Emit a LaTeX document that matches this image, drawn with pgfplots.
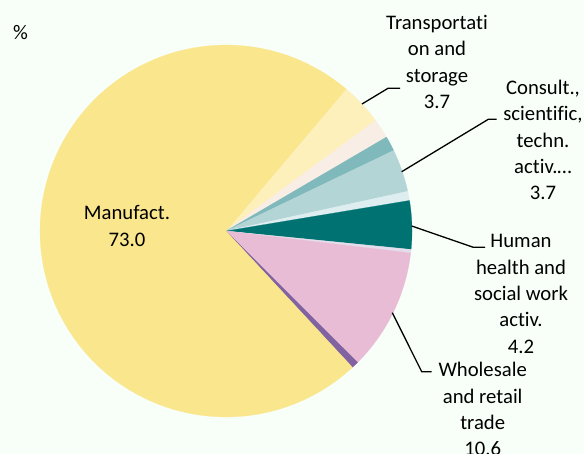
\documentclass[border=0pt]{standalone}
\usepackage{fontspec}
\setmainfont{Carlito}[Ligatures=NoCommon]
\usepackage{pgfplots}
\pgfplotsset{compat=1.18}

\definecolor{bgc}{RGB}{248,255,248}
\definecolor{cManu}{RGB}{250,230,140}
\definecolor{cTrans}{RGB}{253,240,186}
\definecolor{cCream}{RGB}{249,238,230}
\definecolor{cTealM}{RGB}{128,185,187}
\definecolor{cCons}{RGB}{179,213,214}
\definecolor{cVL}{RGB}{221,237,240}
\definecolor{cHum}{RGB}{0,114,114}
\definecolor{cSep}{RGB}{228,222,236}
\definecolor{cWhole}{RGB}{232,188,212}
\definecolor{cPurp}{RGB}{128,99,160}

% pie drawn in pixel-like units: centre (226,231), radius 186
\newcommand\cum{49.8}
\newcommand\slice[2]{%
  \pgfmathsetmacro\sa{\cum}%
  \pgfmathsetmacro\sb{\cum-#1/99.9*360}%
  \addplot[fill=#2, draw=#2, line width=0.2pt, domain=\sb:\sa, samples=90]
    ({226+186*cos(x)},{231-186*sin(x)}) -- (axis cs:226,231) -- cycle;
  \global\let\cum\sb}

\begin{document}
\begin{tikzpicture}[lbl/.style={align=center, text=black,
    font={\fontsize{20.7bp}{26.3bp}\selectfont}}]
\begin{axis}[name=ax,
  scale only axis, width=584bp, height=454bp,
  xmin=0, xmax=584, ymin=0, ymax=454, y dir=reverse,
  hide axis, clip=false]
\fill[bgc] (rel axis cs:0,0) rectangle (rel axis cs:1,1);

\slice{3.7}{cTrans}
\slice{1.7}{cCream}
\slice{1.3}{cTealM}
\slice{3.7}{cCons}
\slice{0.8}{cVL}
\slice{4.2}{cHum}
\slice{0.3}{cSep}
\slice{10.6}{cWhole}
\slice{0.6}{cPurp}
\slice{73.0}{cManu}

\draw[line width=1.3bp] (axis cs:362,104) -- (axis cs:388,88.3) -- (axis cs:400,88.3);
\draw[line width=1.3bp] (axis cs:401.7,171.7) -- (axis cs:488.3,119.3) -- (axis cs:496.7,119.3);
\draw[line width=1.3bp] (axis cs:411.7,226) -- (axis cs:473.3,247.3) -- (axis cs:485,247.3);
\draw[line width=1.3bp] (axis cs:392.3,312.7) -- (axis cs:421.7,371.7) -- (axis cs:431.7,371.7);

\node[lbl] at (axis cs:20.5,33) {\%};
\node[lbl] at (axis cs:127,226) {Manufact.\\73.0};
\node[lbl] at (axis cs:437,62) {Transportati\\on and\\storage\\3.7};
\node[lbl] at (axis cs:543,140) {Consult.,\\scientific,\\techn.\\activ.…\\3.7};
\node[lbl] at (axis cs:521,294) {Human\\health and\\social work\\activ.\\4.2};
\node[lbl] at (axis cs:482.7,409.2) {Wholesale\\and retail\\trade\\10.6};
\end{axis}
\pgfresetboundingbox
\useasboundingbox (ax.south west) rectangle (ax.north east);
\end{tikzpicture}
\end{document}
